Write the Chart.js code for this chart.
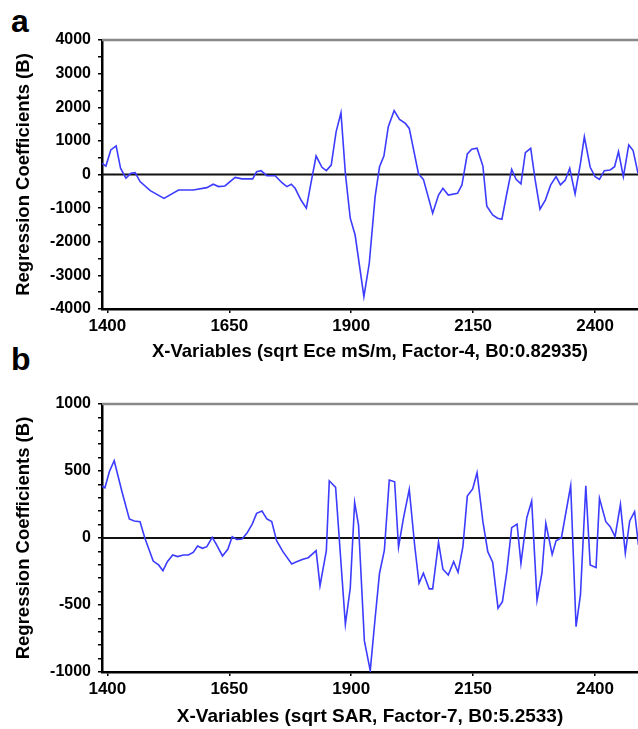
<!DOCTYPE html>
<html>
<head>
<meta charset="utf-8">
<script src="https://cdn.jsdelivr.net/npm/chart.js@4.4.1/dist/chart.umd.min.js"></script>
<style>
  body { margin: 0; background: #fff; width: 638px; height: 729px; overflow: hidden; position: relative; }
  .panel { position: absolute; left: 0; }
  .tag { position: absolute; left: 11px; font: bold 32px "Liberation Sans", Arial, sans-serif; line-height: 32px; color: #000; }
</style>
</head>
<body>
<div class="tag" style="top:5px">a</div>
<div class="tag" style="top:343px">b</div>
<canvas id="chartA" class="panel" style="top:0px" width="638" height="365"></canvas>
<canvas id="chartB" class="panel" style="top:365px" width="638" height="364"></canvas>
<script>
// panel a: Ece coefficients
const xA = [1389, 1397, 1407, 1418, 1427, 1438, 1448, 1457, 1467, 1488, 1516, 1546, 1576, 1604, 1617, 1628,
  1641, 1662, 1676, 1698, 1706, 1715, 1727, 1744, 1758, 1768, 1777, 1785, 1797, 1808, 1818, 1828,
  1840, 1849, 1859, 1869, 1879, 1888, 1898, 1908, 1926, 1937, 1949, 1958, 1967, 1976, 1988, 1999,
  2011, 2019, 2038, 2048, 2067, 2079, 2088, 2099, 2118, 2127, 2138, 2147, 2158, 2170, 2178, 2190,
  2200, 2209, 2218, 2229, 2238, 2248, 2257, 2268, 2277, 2287, 2298, 2309, 2320, 2329, 2339, 2348,
  2359, 2370, 2378, 2390, 2400, 2409, 2419, 2431, 2440, 2448, 2458, 2469, 2478, 2488];
const yA = [333, 250, 730, 850, 190, -110, 35, 55, -210, -480, -710, -460, -460, -390, -290, -360,
  -340, -85, -130, -130, 85, 115, -35, -35, -245, -360, -290, -410, -760, -1000, -210, 550,
  215, 115, 280, 1270, 1835, 35, -1300, -1800, -3630, -2640, -660, 230, 550, 1420, 1900, 1640,
  1520, 1370, 15, -145, -1150, -610, -410, -610, -560, -310, 610, 750, 780, 250, -940, -1200,
  -1300, -1330, -640, 155, -145, -280, 650, 780, -145, -1030, -760, -310, -65, -310, -165, 185,
  -580, 330, 1120, 215, -65, -145, 115, 135, 230, 680, -65, 880, 710, 35];

// panel b: SAR coefficients
const xB = [1387, 1395, 1404, 1414, 1430, 1445, 1455, 1467, 1477, 1494, 1505, 1514, 1523, 1534, 1544, 1556,
  1566, 1576, 1585, 1595, 1604, 1615, 1624, 1636, 1647, 1656, 1665, 1676, 1686, 1697, 1706, 1717,
  1727, 1737, 1747, 1760, 1778, 1788, 1801, 1812, 1828, 1836, 1849, 1855, 1868, 1888, 1898, 1907,
  1915, 1927, 1939, 1949, 1958, 1968, 1978, 1989, 1997, 2007, 2019, 2030, 2039, 2048, 2060, 2067,
  2079, 2088, 2099, 2110, 2119, 2129, 2138, 2149, 2158, 2170, 2180, 2190, 2201, 2210, 2219, 2229,
  2240, 2248, 2260, 2270, 2281, 2291, 2299, 2312, 2320, 2331, 2339, 2350, 2361, 2370, 2381, 2390,
  2402, 2409, 2422, 2431, 2441, 2452, 2462, 2471, 2481, 2489];
const yB = [390, 375, 495, 577, 345, 142, 127, 122, -2, -172, -201, -244, -177, -127, -139, -127,
  -127, -107, -60, -77, -65, 5, -52, -134, -84, 10, -10, -7, 35, 104, 184, 201,
  142, 122, -20, -102, -194, -177, -159, -147, -95, -356, -95, 427, 378, -644, -375, 266,
  97, -768, -990, -599, -263, -90, 433, 420, -69, 147, 363, -52, -338, -263, -380, -380,
  -32, -233, -276, -177, -256, -65, 313, 366, 487, 122, -102, -181, -524, -475, -251, 77,
  104, -189, 151, 276, -463, -263, 110, -122, -20, 2, 166, 390, -662, -425, 390, -201,
  -221, 296, 122, 84, 10, 251, -114, 127, 196, -52];

const xTicks = [1400, 1650, 1900, 2150, 2400];
const xMin = 1389, xMax = 2488;

const FONT = '"Liberation Sans", Arial, sans-serif';

// zero line + grey top frame line
const framePlugin = {
  id: 'frame',
  beforeDatasetsDraw(chart) {
    const { ctx, chartArea } = chart;
    const y0 = chart.scales.y.getPixelForValue(0);
    ctx.save();
    ctx.strokeStyle = '#888';
    ctx.lineWidth = 2.5;
    ctx.beginPath();
    ctx.moveTo(chartArea.left, chartArea.top);
    ctx.lineTo(chartArea.right, chartArea.top);
    ctx.stroke();
    ctx.strokeStyle = '#111';
    ctx.lineWidth = 2;
    ctx.beginPath();
    ctx.moveTo(chartArea.left, y0);
    ctx.lineTo(chartArea.right, y0);
    ctx.stroke();
    ctx.restore();
  }
};

function makeChart(id, xs, ys, yMin, yMax, minorStep, labelStep, xTitle, padTop, xAxisH, titlePad, titleSize) {
  const pts = xs.map((x, i) => ({ x: x, y: ys[i] }));
  return new Chart(document.getElementById(id), {
    type: 'line',
    data: {
      datasets: [{
        data: pts,
        borderColor: '#3c3cff',
        borderWidth: 1.6,
        pointRadius: 0,
        tension: 0,
        fill: false
      }]
    },
    options: {
      responsive: false,
      animation: false,
      devicePixelRatio: 1,
      layout: { padding: { top: padTop, left: 0, right: 0, bottom: 0 } },
      plugins: { legend: { display: false }, tooltip: { enabled: false } },
      scales: {
        x: {
          type: 'linear',
          min: xMin,
          max: xMax,
          afterBuildTicks: (s) => { s.ticks = xTicks.map(v => ({ value: v })); },
          afterFit: (s) => { s.height = xAxisH; },
          border: { display: true, color: '#000', width: 2.5 },
          grid: { drawOnChartArea: false, drawTicks: true, tickLength: 4, color: '#000', lineWidth: 1.5 },
          ticks: {
            color: '#000',
            font: { family: FONT, size: 17, weight: 'bold' },
            padding: 3,
            maxRotation: 0,
            callback: (v) => String(v)
          },
          title: { display: true, text: xTitle, color: '#000', font: { family: FONT, size: titleSize, weight: 'bold' }, padding: { top: 0, bottom: titlePad } }
        },
        y: {
          min: yMin,
          max: yMax,
          afterFit: (s) => { s.width = 102; },
          border: { display: true, color: '#000', width: 2.5 },
          grid: { drawOnChartArea: false, drawTicks: true, tickLength: 4, color: '#000', lineWidth: 1.5 },
          ticks: {
            stepSize: minorStep,
            color: '#000',
            autoSkip: false,
            font: { family: FONT, size: 16, weight: 'bold' },
            padding: 7,
            callback: (v) => (v % labelStep === 0 ? String(v) : '')
          },
          title: { display: true, text: 'Regression Coefficients (B)', color: '#000', font: { family: FONT, size: 18.5, weight: 'bold' }, padding: { top: 13, bottom: 0 } }
        }
      }
    },
    plugins: [framePlugin]
  });
}

makeChart('chartA', xA, yA, -4000, 4000, 500, 1000,
  'X-Variables (sqrt Ece mS/m, Factor-4, B0:0.82935)', 40, 56, 2, 18.5);
makeChart('chartB', xB, yB, -1000, 1000, 100, 500,
  'X-Variables (sqrt SAR, Factor-7, B0:5.2533)', 39, 57, 1, 19);
</script>
</body>
</html>
